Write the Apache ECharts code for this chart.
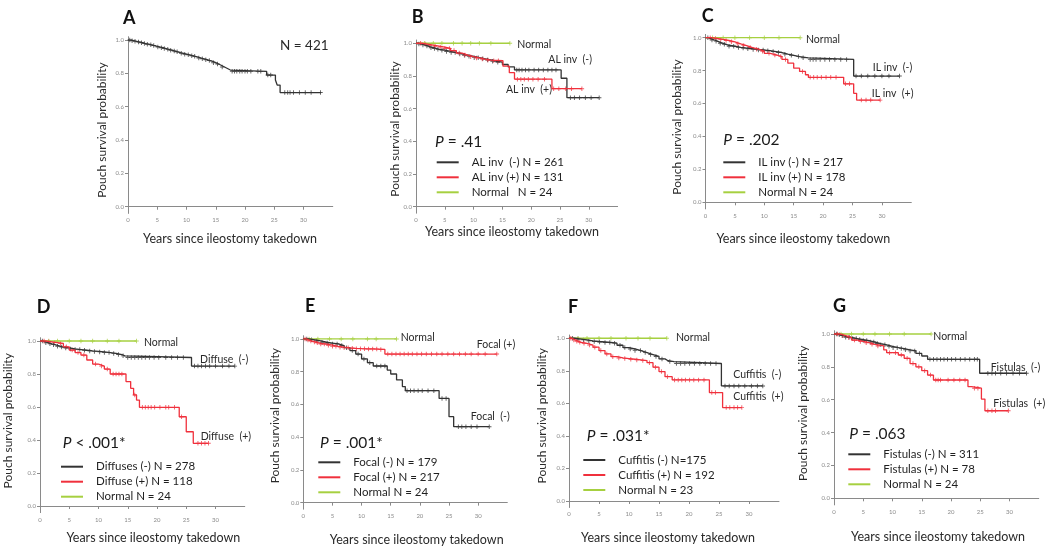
<!DOCTYPE html>
<html><head><meta charset="utf-8">
<script src="https://cdn.jsdelivr.net/npm/echarts@6/dist/echarts.min.js"></script>
<style>html,body{margin:0;padding:0;background:#fff}#c{width:1050px;height:550px}</style>
</head><body><div id="c"></div>
<script>
// ---------------- DATA ----------------
const xTicks = [0, 5, 10, 15, 20, 25, 30];
const yTicks = [0, 0.2, 0.4, 0.6, 0.8, 1.0];

// Panel A (all patients)
const A_time = [0,0.5,1,1.5,2,2.5,3,3.5,4,4.5,5,5.5,6,6.5,7,7.5,8,8.5,9,9.5,10,10.5,11,11.5,12,12.5,13,13.5,14,14.5,15,15.5,16,16.5,17,17.5,23.7,25.2,25.5,26];
const A_surv = [1,0.996,0.992,0.988,0.984,0.979,0.975,0.971,0.967,0.962,0.958,0.954,0.949,0.944,0.939,0.934,0.929,0.924,0.92,0.915,0.911,0.906,0.902,0.897,0.892,0.887,0.882,0.877,0.872,0.864,0.856,0.847,0.838,0.829,0.82,0.812,0.79,0.76,0.73,0.685];
const A_end = 33;
const A_cens = [0.3,0.7,1.2,1.8,2.3,2.8,3.3,3.9,4.4,5.1,5.7,6.2,6.8,7.3,7.9,8.4,9.1,9.7,10.3,10.9,11.4,12.1,12.7,13.3,13.9,14.6,15.3,16.1,17.8,18.2,18.6,19.1,19.5,20.0,20.4,21.0,22.2,22.7,23.9,24.4,26.8,27.3,27.7,28.3,29.3,30.3,31.3,32.9];

// Panel B (AL involvement)
const B_neg_time = [0,0.5,1,1.5,2,2.5,3,3.5,4,5,6,7,8,9,10,11,12,13,14,15,16,17.1,25.2,26.2];
const B_neg_surv = [1,0.995,0.99,0.984,0.978,0.973,0.968,0.963,0.958,0.95,0.943,0.935,0.927,0.92,0.912,0.905,0.898,0.89,0.884,0.87,0.855,0.837,0.786,0.667];
const B_neg_end = 31.8;
const B_neg_cens = [0.5,1.2,1.9,2.6,3.2,3.8,4.5,5.3,6.1,6.8,7.6,8.4,9.2,10.1,10.8,11.6,12.4,13.3,14.2,17.5,17.9,18.4,19.0,19.6,20.5,21.3,22.1,22.9,23.6,24.3,26.8,27.5,28.4,29.4,30.4,31.8];
const B_pos_time = [0,1,2,3,4,5,6,7,8,9,10,11,12,13,15.1,16.2,17.1,23.6];
const B_pos_surv = [1,0.995,0.988,0.982,0.977,0.968,0.955,0.94,0.928,0.918,0.91,0.903,0.897,0.893,0.86,0.82,0.78,0.722];
const B_pos_end = 28.8;
const B_pos_cens = [0.8,1.6,2.4,3.3,4.2,5.0,5.8,6.6,7.5,8.5,9.5,10.5,11.5,12.5,13.5,14.3,17.6,18.2,18.8,19.5,20.3,21.2,22.3,23.9,24.8,26.0,27.0,28.8];
const B_norm_end = 16.3;
const B_norm_cens = [1.5,3,4.5,6.5,8,9.5,11,13,16.3];

// Panel C (IL involvement)
const C_neg_time = [0,0.5,1,1.5,2,2.5,3,3.5,4,5,6,7,8,9,10,11,12,13,14,15,16,17.5,25.2];
const C_neg_surv = [1,0.993,0.986,0.979,0.972,0.966,0.96,0.954,0.948,0.941,0.937,0.933,0.929,0.925,0.921,0.916,0.91,0.9,0.893,0.885,0.878,0.868,0.767];
const C_neg_end = 33;
const C_neg_cens = [0.4,1.1,1.8,2.5,3.2,4.0,4.8,5.6,6.4,7.2,8.1,9.0,9.8,10.6,11.5,12.4,13.5,14.6,15.8,16.6,17.8,18.3,18.8,19.5,20.3,21.1,22.0,23.0,24.0,25.6,26.5,27.6,28.8,30.0,31.2,33.0];
const C_pos_time = [0,1,2,3,4,5,6,7,8,9,10,11,12,13,14,15,16,17,17.5,23.5,25.2,25.7];
const C_pos_surv = [1,0.995,0.99,0.983,0.975,0.963,0.952,0.94,0.93,0.918,0.905,0.895,0.885,0.868,0.845,0.815,0.795,0.775,0.759,0.72,0.662,0.621];
const C_pos_end = 29.7;
const C_pos_cens = [0.8,1.7,2.6,3.5,4.4,5.5,6.5,7.6,8.7,9.7,10.8,11.8,12.8,13.6,16.5,17.8,18.4,19.0,19.7,20.5,21.3,22.2,23.8,24.5,26.5,27.3,28.1,29.7];
const C_norm_end = 16.1;
const C_norm_cens = [1.2,3,5,7.5,10,12.5,16.1];

// Panel D (diffuse inflammation)
const D_neg_time = [0,0.5,1,1.5,2,2.5,3,3.5,4,5,6,7,8,9,10,11,12,13,14,14.5,25.9];
const D_neg_surv = [1,0.994,0.989,0.983,0.978,0.973,0.968,0.963,0.958,0.952,0.948,0.944,0.94,0.937,0.934,0.93,0.925,0.918,0.91,0.9,0.848];
const D_neg_end = 33.3;
const D_neg_cens = [0.4,1.0,1.7,2.3,3.0,3.7,4.4,5.2,6.0,6.8,7.6,8.5,9.3,10.2,11.0,11.8,12.6,13.4,14.2,15.0,15.6,16.2,16.8,17.4,18.0,18.7,19.5,20.3,21.5,22.5,23.5,24.5,26.4,27.0,27.6,28.3,29.0,30.0,31.2,32.3,33.3];
const D_pos_time = [0,1,2,3,4,5,6,7,8,9,10,11,12,14.7,15.5,16,16.5,17,23.8,25,26.2];
const D_pos_surv = [1,0.995,0.99,0.985,0.965,0.945,0.93,0.915,0.885,0.86,0.848,0.83,0.8,0.754,0.713,0.673,0.642,0.598,0.541,0.45,0.38];
const D_pos_end = 28.8;
const D_pos_cens = [0.7,1.5,2.5,3.5,4.5,5.5,6.5,7.5,9.5,10.5,11.5,12.5,13.0,13.5,14.0,16.2,17.5,18.0,18.5,19.0,19.6,20.5,21.5,22.0,23.0,24.2,27.0,27.6,28.2,28.8];
const D_norm_end = 16.5;
const D_norm_cens = [1.5,3,5,7,9,11.5,13.5,16.5];

// Panel E (focal inflammation)
const E_neg_time = [0,1,2,3,4,5,6,7,8,9,10,11,12,14.4,15,16,17,17.5,23.3,25,25.8];
const E_neg_surv = [1,0.995,0.988,0.98,0.975,0.97,0.96,0.947,0.929,0.908,0.878,0.855,0.835,0.81,0.786,0.75,0.709,0.684,0.637,0.525,0.464];
const E_neg_end = 31.9;
const E_neg_cens = [0.6,1.4,2.3,3.2,4.1,5.0,5.8,6.6,7.4,8.4,9.4,10.4,11.4,12.6,13.3,14.0,17.8,18.4,19.0,19.7,20.4,21.4,22.4,23.8,24.5,26.6,27.2,27.9,28.8,29.8,31.9];
const E_pos_time = [0,0.5,1,1.5,2,2.5,3,4,5,6,7,8,9,10,11,12,13,14];
const E_pos_surv = [1,0.993,0.987,0.982,0.977,0.973,0.969,0.962,0.955,0.95,0.946,0.943,0.941,0.94,0.939,0.938,0.936,0.908];
const E_pos_end = 33.2;
const E_pos_cens = [0.3,0.8,1.3,1.9,2.4,3.0,3.6,4.3,5.0,5.6,6.3,7.0,7.7,8.4,9.1,9.8,10.5,11.2,11.9,12.6,13.3,14.5,15.2,15.9,16.6,17.3,18.0,18.7,19.5,20.3,21.1,22.0,22.9,23.8,24.8,25.8,26.8,27.8,28.8,30.0,31.2,33.2];
const E_norm_end = 16;
const E_norm_cens = [1,2.5,4.5,6.5,8.5,11,12.5,16];

// Panel F (cuffitis)
const F_neg_time = [0,1,2,3,4,5,6,7,8,9,10,11,12,13,14,15,16,16.5,17.5,25.4];
const F_neg_surv = [1,0.995,0.99,0.984,0.98,0.977,0.974,0.97,0.957,0.943,0.934,0.924,0.912,0.9,0.888,0.873,0.862,0.857,0.845,0.707];
const F_neg_end = 32.3;
const F_neg_cens = [0.6,1.5,2.4,3.3,4.2,5.1,6.0,6.8,7.6,8.5,9.3,10.2,11.0,11.9,12.7,13.6,14.5,15.5,16.8,17.9,18.6,19.3,20.1,20.9,21.8,22.7,23.6,24.5,26.0,26.7,27.5,28.3,29.3,30.4,31.4,32.3];
const F_pos_time = [0,0.5,1,1.5,2,3,4,5,6,7,8,9,10,11,12,13,14,15,16,17.2,23.4,25.6];
const F_pos_surv = [1,0.99,0.982,0.975,0.969,0.958,0.945,0.924,0.904,0.887,0.879,0.875,0.871,0.867,0.863,0.85,0.822,0.795,0.764,0.744,0.666,0.574];
const F_pos_end = 28.8;
const F_pos_cens = [0.3,0.8,1.3,1.8,2.5,3.4,4.3,5.3,6.3,7.3,8.3,9.3,10.3,11.3,12.3,13.4,14.4,15.4,16.4,17.6,18.2,18.8,19.4,20.1,20.8,21.6,22.5,23.8,24.4,26.2,26.8,27.5,28.1,28.8];
const F_norm_end = 16.3;
const F_norm_cens = [1.5,3,5,7,9.5,11.5,13.5,16.3];

// Panel G (fistulas)
const G_neg_time = [0,0.5,1,1.5,2,3,4,5,6,7,8,9,10,11,12,13,14,15,16,24.9];
const G_neg_surv = [1,0.995,0.99,0.985,0.98,0.972,0.966,0.96,0.951,0.942,0.934,0.925,0.917,0.911,0.904,0.897,0.882,0.866,0.846,0.761];
const G_neg_end = 32.9;
const G_neg_cens = [0.4,0.9,1.4,2.0,2.6,3.2,3.8,4.4,5.0,5.6,6.2,6.8,7.4,8.0,8.7,9.4,10.1,10.8,11.5,12.2,13.0,13.8,14.6,16.4,17.0,17.6,18.2,18.8,19.4,20.1,20.8,21.6,22.4,23.2,24.0,24.5,26.3,27.0,27.6,28.5,29.5,30.6,31.7,32.9];
const G_pos_time = [0,1,2,3,4,5,6,7,8.5,9,11,12,13,14,15,16,17,22.9,23.5,25.2,25.8];
const G_pos_surv = [1,0.99,0.978,0.963,0.955,0.947,0.937,0.927,0.903,0.886,0.872,0.852,0.82,0.8,0.777,0.75,0.72,0.68,0.67,0.604,0.533];
const G_pos_end = 29.8;
const G_pos_cens = [0.6,1.5,2.5,3.5,4.5,5.5,6.5,7.5,9.5,10.5,11.5,12.5,13.5,14.5,15.5,16.5,17.4,17.8,18.2,19.5,20.5,21.5,22.4,24.0,24.6,26.3,27.0,27.6,29.8];
const G_norm_end = 16.6;
const G_norm_cens = [1.2,3,5,7,9.5,12,16.6];

// ---------------- PANELS ----------------
const BLACK = '#333333', RED = '#f0303c', GREEN = '#a6d040';

const panels = [
  { key:'A', grid:[128,36.7,204.75,176.7], letter:[123,19], ytitle:[101.7,130], xtitle:[230,239.3],
    curves:[{name:'All', color:BLACK, time:A_time, surv:A_surv, end:A_end, cens:A_cens}],
    notes:[{t:'N = 421', x:280, y:46, size:13.5}], p:null, legend:null },
  { key:'B', grid:[416,40,201.6,173.2], letter:[411.7,18], ytitle:[395,129], xtitle:[512,231.7],
    curves:[
      {name:'Normal   N = 24', color:GREEN, time:[0], surv:[1], end:B_norm_end, cens:B_norm_cens},
      {name:'AL inv  (-) N = 261', color:BLACK, time:B_neg_time, surv:B_neg_surv, end:B_neg_end, cens:B_neg_cens},
      {name:'AL inv (+) N = 131', color:RED, time:B_pos_time, surv:B_pos_surv, end:B_pos_end, cens:B_pos_cens}],
    notes:[{t:'Normal',x:517.3,y:44.3},{t:'AL inv  (-)',x:548.3,y:60},{t:'AL inv  (+)',x:506,y:89.3}],
    p:{t:' = .41', x:435, y:141.7}, legend:{left:436.7, top:155.3, order:[1,2,0]} },
  { key:'C', grid:[705.5,34.4,205.8,174.5], letter:[701.7,17.5], ytitle:[676.7,127], xtitle:[803.3,239.3],
    curves:[
      {name:'Normal N = 24', color:GREEN, time:[0], surv:[1], end:C_norm_end, cens:C_norm_cens},
      {name:'IL inv (-) N = 217', color:BLACK, time:C_neg_time, surv:C_neg_surv, end:C_neg_end, cens:C_neg_cens},
      {name:'IL inv (+) N = 178', color:RED, time:C_pos_time, surv:C_pos_surv, end:C_pos_end, cens:C_pos_cens}],
    notes:[{t:'Normal',x:806,y:39.3},{t:'IL inv  (-)',x:872.7,y:67.7},{t:'IL inv  (+)',x:871.7,y:93.3}],
    p:{t:' = .202', x:723.3, y:140}, legend:{left:723.3, top:155.3, order:[1,2,0]} },
  { key:'D', grid:[40,337.7,204.75,174.9], letter:[36.7,308], ytitle:[8.3,420.8], xtitle:[153.3,538.3],
    curves:[
      {name:'Normal N = 24', color:GREEN, time:[0], surv:[1], end:D_norm_end, cens:D_norm_cens},
      {name:'Diffuses (-) N = 278', color:BLACK, time:D_neg_time, surv:D_neg_surv, end:D_neg_end, cens:D_neg_cens},
      {name:'Diffuse (+) N = 118', color:RED, time:D_pos_time, surv:D_pos_surv, end:D_pos_end, cens:D_pos_cens}],
    notes:[{t:'Normal',x:144,y:342.3},{t:'Diffuse  (-)',x:200,y:359.3},{t:'Diffuse  (+)',x:200.7,y:436.7}],
    p:{t:' < .001*', x:62.7, y:443.3}, legend:{left:61, top:459.7, order:[1,2,0]} },
  { key:'E', grid:[303.3,335.7,204,173.5], letter:[305,306.7], ytitle:[275,415.7], xtitle:[416.7,540],
    curves:[
      {name:'Normal N = 24', color:GREEN, time:[0], surv:[1], end:E_norm_end, cens:E_norm_cens},
      {name:'Focal (-) N = 179', color:BLACK, time:E_neg_time, surv:E_neg_surv, end:E_neg_end, cens:E_neg_cens},
      {name:'Focal (+) N = 217', color:RED, time:E_pos_time, surv:E_pos_surv, end:E_pos_end, cens:E_pos_cens}],
    notes:[{t:'Normal',x:400.7,y:338},{t:'Focal (+)',x:476.7,y:344.3},{t:'Focal  (-)',x:470.7,y:416.7}],
    p:{t:' = .001*', x:320, y:442.7}, legend:{left:318.3, top:455.3, order:[1,2,0]} },
  { key:'F', grid:[569,335,210,172.5], letter:[568,308], ytitle:[541.7,415.8], xtitle:[668,538.3],
    curves:[
      {name:'Normal N = 23', color:GREEN, time:[0], surv:[1], end:F_norm_end, cens:F_norm_cens},
      {name:'Cuffitis (-) N=175', color:BLACK, time:F_neg_time, surv:F_neg_surv, end:F_neg_end, cens:F_neg_cens},
      {name:'Cuffitis (+) N = 192', color:RED, time:F_pos_time, surv:F_pos_surv, end:F_pos_end, cens:F_pos_cens}],
    notes:[{t:'Normal',x:676,y:337.3},{t:'Cuffitis  (-)',x:733.3,y:375},{t:'Cuffitis  (+)',x:733.3,y:396.7}],
    p:{t:' = .031*', x:586.7, y:435.7}, legend:{left:583.3, top:453, order:[1,2,0]} },
  { key:'G', grid:[834,330.7,204.75,174.2], letter:[833,307.5], ytitle:[803,413.3], xtitle:[938,537.3],
    curves:[
      {name:'Normal N = 24', color:GREEN, time:[0], surv:[1], end:G_norm_end, cens:G_norm_cens},
      {name:'Fistulas (-) N = 311', color:BLACK, time:G_neg_time, surv:G_neg_surv, end:G_neg_end, cens:G_neg_cens},
      {name:'Fistulas (+) N = 78', color:RED, time:G_pos_time, surv:G_pos_surv, end:G_pos_end, cens:G_pos_cens}],
    notes:[{t:'Normal',x:933.3,y:336.7},{t:'Fistulas  (-)',x:990.7,y:367.3},{t:'Fistulas  (+)',x:993.3,y:403.3}],
    p:{t:' = .063', x:849.3, y:434.3}, legend:{left:848.3, top:447.3, order:[1,2,0]} }
];

// ---------------- BUILD ----------------
const FONT = 'Lato, "Open Sans", sans-serif';
const PLUS = 'path://M4,0H6V4H10V6H6V10H4V6H0V4H4Z';
function survAt(time, surv, t) {
  let s = surv[0];
  for (let i = 0; i < time.length; i++) { if (time[i] <= t) s = surv[i]; }
  return s;
}

const grids = [], xAxes = [], yAxes = [], series = [], legends = [], graphics = [], titles = [];
panels.forEach((p, gi) => {
  grids.push({ left:p.grid[0], top:p.grid[1], width:p.grid[2], height:p.grid[3], containLabel:false, outerBoundsMode:'none' });
  const axisCommon = {
    gridIndex: gi, type:'value', splitLine:{show:false},
    axisLine:{show:true, lineStyle:{color:'#8a8a8a', width:1}},
    axisTick:{show:true, length:3, lineStyle:{color:'#8a8a8a'}},
    axisLabel:{fontSize:6, color:'#8a8a8a', fontFamily:FONT, margin:4}
  };
  xAxes.push(Object.assign({}, axisCommon, { min:0, max:35,
    axisTick:Object.assign({}, axisCommon.axisTick, {customValues:xTicks}),
    axisLabel:Object.assign({}, axisCommon.axisLabel, {customValues:xTicks}) }));
  yAxes.push(Object.assign({}, axisCommon, { min:-0.04, max:1.02,
    axisTick:Object.assign({}, axisCommon.axisTick, {customValues:yTicks}),
    axisLabel:Object.assign({}, axisCommon.axisLabel, {customValues:yTicks, formatter:v => v.toFixed(1)}) }));

  p.curves.forEach(c => {
    const pts = c.time.map((t, i) => [t, c.surv[i]]);
    pts.push([c.end, c.surv[c.surv.length - 1]]);
    series.push({ type:'line', name:c.name, xAxisIndex:gi, yAxisIndex:gi, data:pts, step:'end',
      symbol:'none', color:c.color, lineStyle:{color:c.color, width:1.3}, silent:true, animation:false });
    series.push({ type:'scatter', name:c.name + ' censored', xAxisIndex:gi, yAxisIndex:gi,
      data:c.cens.map(t => [t, survAt(c.time, c.surv, t)]), symbol:PLUS, symbolSize:4.5,
      itemStyle:{color:c.color}, silent:true, animation:false });
  });

  titles.push({ text:p.key, left:p.letter[0], top:p.letter[1] - 10, padding:0,
    textStyle:{fontSize:18, fontWeight:'bold', fontFamily:FONT, color:'#111'} });

  graphics.push({ type:'text', x:p.ytitle[0], y:p.ytitle[1], rotation:Math.PI/2,
    style:{text:'Pouch survival probability', fontSize:12, fontFamily:FONT, fill:'#2a2a2a', align:'center', verticalAlign:'middle'} });
  graphics.push({ type:'text', x:p.xtitle[0], y:p.xtitle[1],
    style:{text:'Years since ileostomy takedown', fontSize:12.5, fontFamily:FONT, fill:'#2a2a2a', align:'center', verticalAlign:'middle'} });
  p.notes.forEach(n => graphics.push({ type:'text', x:n.x, y:n.y,
    style:{text:n.t, fontSize:n.size || 10.5, fontFamily:FONT, fill:'#2a2a2a', align:'left', verticalAlign:'middle'} }));
  if (p.p) graphics.push({ type:'text', x:p.p.x, y:p.p.y,
    style:{text:'{i|P}' + p.p.t, fontSize:15.5, fontFamily:FONT, fill:'#1a1a1a', align:'left', verticalAlign:'middle',
      rich:{i:{fontStyle:'italic', fontSize:15.5, fontFamily:FONT, fill:'#1a1a1a'}}} });
  if (p.legend) legends.push({ orient:'vertical', left:p.legend.left, top:p.legend.top, padding:0,
    itemWidth:22, itemHeight:2, itemGap:1, icon:'rect', selectedMode:false,
    data:p.legend.order.map(i => p.curves[i].name),
    textStyle:{fontSize:11.5, fontFamily:FONT, color:'#1f1f1f', lineHeight:14, padding:[0,0,0,8]} });
});

const chart = echarts.init(document.getElementById('c'), null, { renderer:'canvas' });
chart.setOption({
  backgroundColor:'#fff', animation:false,
  title:titles, grid:grids, xAxis:xAxes, yAxis:yAxes, legend:legends, series:series,
  graphic:{elements:graphics}
});
</script>
</body></html>
